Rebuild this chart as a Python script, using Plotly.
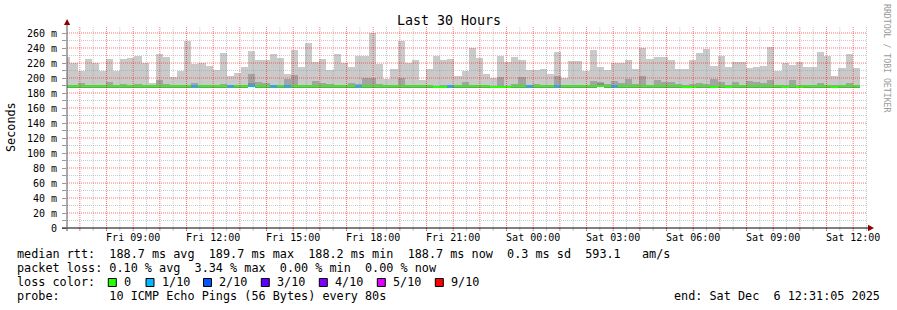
import plotly.graph_objects as go
from datetime import datetime, timedelta

# ---------------- data ----------------
bin_start = datetime(2025, 12, 5, 6, 22, 45)   # first 16-minute consolidation bin
bin_minutes = 16

# top of smoke (max ping), ms
rtt_max = [228.4, 220.4, 208.9, 225.8, 220.4, 208.9, 225.8, 208.9, 225.8, 227.0,
           229.8, 220.4, 193.8, 232.4, 228.4, 201.3, 208.9, 248.9, 219.1, 220.4,
           216.4, 211.1, 233.8, 203.1, 207.1, 215.1, 236.4, 224.4, 224.4, 232.4,
           227.0, 205.8, 237.8, 215.1, 247.1, 221.8, 225.8, 211.1, 232.4, 220.4,
           215.1, 229.8, 229.8, 259.6, 219.1, 199.1, 212.4, 249.8, 220.4, 224.4,
           197.8, 212.4, 229.8, 224.4, 225.8, 203.1, 209.8, 239.6, 227.0, 205.8,
           200.4, 229.8, 221.8, 228.4, 224.4, 211.1, 211.1, 212.4, 205.8, 235.1,
           200.4, 223.1, 223.1, 209.8, 237.8, 215.1, 211.1, 220.4, 220.4, 224.4,
           212.4, 240.4, 225.8, 228.4, 228.4, 224.4, 212.4, 212.4, 224.4, 233.8,
           239.1, 216.4, 229.8, 215.1, 221.8, 221.8, 213.8, 215.1, 216.4, 241.8,
           208.9, 220.4, 217.8, 221.8, 215.1, 215.1, 235.1, 229.8, 203.1, 213.8,
           232.4, 213.8]

# top of second smoke layer (9th ping), ms
rtt_p9 = [189.5, 189.5, 193.8, 189.5, 191.0, 189.5, 195.0, 190.5, 192.4, 189.5,
          192.4, 189.5, 189.5, 197.8, 192.4, 189.5, 191.0, 189.5, 193.8, 189.5,
          189.5, 189.5, 192.4, 189.5, 189.5, 189.5, 205.8, 195.0, 193.8, 189.5,
          189.5, 199.1, 204.4, 189.5, 189.5, 196.4, 193.8, 192.4, 189.5, 189.5,
          193.8, 192.4, 200.4, 200.4, 192.4, 189.5, 189.5, 200.4, 191.0, 189.5,
          189.5, 189.5, 189.5, 190.5, 189.5, 189.5, 195.0, 191.0, 189.5, 189.5,
          189.5, 201.8, 189.5, 192.4, 201.8, 189.5, 192.4, 189.5, 189.5, 203.1,
          189.5, 189.5, 189.5, 189.5, 196.4, 195.0, 192.4, 196.4, 193.8, 199.1,
          192.4, 203.1, 189.5, 197.8, 195.0, 195.0, 192.4, 191.0, 192.4, 193.8,
          192.4, 199.1, 195.0, 191.0, 195.0, 189.5, 196.4, 195.0, 193.8, 197.8,
          189.5, 191.0, 197.8, 191.0, 189.5, 189.5, 193.8, 191.0, 191.0, 189.5,
          193.8, 191.0]

# top of third smoke layer (8th ping), ms
rtt_p8 = [189.0] * 26 + [194.0] + [189.0] * 48 + [194.0] + [189.0] * 36

# median rtt, ms
rtt_median = [188.8, 188.8, 188.8, 188.8, 188.8, 188.8, 188.8, 188.8, 188.8, 188.8,
              188.8, 188.8, 188.8, 188.8, 188.8, 188.8, 188.8, 188.8, 188.8, 188.8,
              188.8, 188.8, 188.8, 188.8, 188.8, 188.8, 188.8, 188.8, 188.8, 188.8,
              188.8, 188.8, 188.8, 188.8, 188.8, 188.8, 188.8, 188.8, 188.8, 188.8,
              188.8, 188.8, 188.8, 188.8, 188.8, 188.8, 188.8, 188.8, 188.8, 188.8,
              188.8, 188.8, 188.2, 188.2, 188.8, 188.8, 188.8, 188.8, 188.8, 188.8,
              188.2, 188.2, 188.2, 188.8, 188.8, 188.8, 188.8, 188.8, 188.8, 188.8,
              188.8, 188.8, 188.8, 188.8, 188.8, 188.8, 188.8, 188.8, 188.8, 188.8,
              188.8, 188.8, 188.8, 188.8, 188.8, 188.8, 188.8, 188.2, 188.2, 188.8,
              188.8, 188.2, 188.8, 188.2, 188.8, 188.8, 188.8, 188.8, 188.8, 189.8,
              188.8, 188.2, 188.8, 188.2, 188.8, 188.8, 188.8, 188.8, 188.2, 188.8,
              188.8, 188.8]

# packet loss per bin (pings lost out of 10)
loss = [0] * 112
for k in [18, 23, 26, 29, 31, 41, 54, 65, 69, 77]:
    loss[k] = 1

smoke_min = 187.6

loss_labels = ["0", "1/10", "2/10", "3/10", "4/10", "5/10", "9/10"]
loss_colors = ["#26ff00", "#00b8ff", "#0059ff", "#5e00ff", "#7e00ff", "#dd00ff", "#ff0000"]
loss_color_map = {0: "#26ff00", 1: "#00b8ff", 2: "#0059ff", 3: "#5e00ff",
                  4: "#7e00ff", 5: "#dd00ff", 9: "#ff0000"}

y_ticks = list(range(0, 261, 20))
y_ticktext = ["0"] + ["%d m" % v for v in y_ticks[1:]]

x_start = datetime(2025, 12, 5, 6, 31, 5)
x_end = datetime(2025, 12, 6, 12, 31, 5)

stats_lines = [
    "median rtt:  188.7 ms avg  189.7 ms max  188.2 ms min  188.7 ms now  0.3 ms sd  593.1   am/s",
    "packet loss: 0.10 % avg  3.34 % max  0.00 % min  0.00 % now",
    "loss color:",
    "probe:       10 ICMP Echo Pings (56 Bytes) every 80s",
]
end_text = "end: Sat Dec  6 12:31:05 2025"

# ---------------- figure ----------------
n = len(rtt_max)
centers = [bin_start + timedelta(minutes=bin_minutes * (k + 0.5)) for k in range(n)]
width_ms = bin_minutes * 60 * 1000

fig = go.Figure()
fig.add_trace(go.Bar(x=centers, y=[v - smoke_min for v in rtt_max], base=smoke_min,
                     width=width_ms, marker=dict(color="#cacaca", line=dict(width=0)),
                     hoverinfo="skip"))
fig.add_trace(go.Bar(x=centers, y=[v - smoke_min for v in rtt_p9], base=smoke_min,
                     width=width_ms, marker=dict(color="#a4a4a4", line=dict(width=0)),
                     hoverinfo="skip"))
fig.add_trace(go.Bar(x=centers, y=[v - smoke_min for v in rtt_p8], base=smoke_min,
                     width=width_ms, marker=dict(color="#8a8a8a", line=dict(width=0)),
                     hoverinfo="skip"))
band = 1.35
fig.add_trace(go.Bar(x=centers, y=[2 * band] * n, base=[m - band for m in rtt_median],
                     width=width_ms,
                     marker=dict(color=[loss_color_map[l] for l in loss], line=dict(width=0)),
                     hoverinfo="skip"))

# pixel geometry helpers (paper coords)
L, R, T, B = 67, 867, 27, 228
W, H = 897, 310
def px(x):
    return (x - L) / (R - L)
def py(y):
    return (B - y) / (B - T)

RED_GRID = "rgba(255,0,0,0.55)"
GRAY_GRID = "rgba(150,150,150,0.5)"

shapes = []
# vertical grid: half-hour minor (gray) and hourly major (red)
t = datetime(2025, 12, 5, 7, 0)
while t < x_end:
    major = (t.minute == 0)
    shapes.append(dict(type="line", xref="x", yref="paper", x0=t, x1=t, y0=0, y1=1,
                       layer="above",
                       line=dict(color=RED_GRID if major else GRAY_GRID,
                                 width=1, dash="1px,1px")))
    shapes.append(dict(type="line", xref="x", yref="paper", x0=t, x1=t, y0=py(228), y1=py(231),
                       layer="above",
                       line=dict(color="rgba(255,0,0,0.55)" if major else "rgba(150,150,150,0.5)",
                                 width=1)))
    t += timedelta(minutes=30)
# horizontal grid
for v in range(10, 261, 10):
    major = (v % 20 == 0)
    shapes.append(dict(type="line", xref="paper", yref="y", x0=0, x1=1, y0=v, y1=v,
                       layer="above",
                       line=dict(color=RED_GRID if major else GRAY_GRID,
                                 width=1, dash="1px,1px")))
# axes
shapes.append(dict(type="line", xref="paper", yref="paper", x0=px(62), x1=px(868),
                   y0=0, y1=0, layer="above", line=dict(color="#000000", width=1)))
shapes.append(dict(type="line", xref="paper", yref="paper", x0=0, x1=0,
                   y0=py(231), y1=py(24), layer="above", line=dict(color="#555555", width=1)))
# arrows
shapes.append(dict(type="path", xref="paper", yref="paper", layer="above",
                   path="M %f,%f L %f,%f L %f,%f Z" % (px(64), py(25), px(70.2), py(25), px(67.1), py(19)),
                   fillcolor="#8b0000", line=dict(width=0)))
shapes.append(dict(type="path", xref="paper", yref="paper", layer="above",
                   path="M %f,%f L %f,%f L %f,%f Z" % (px(868), py(224.8), px(868), py(231.2), px(874), py(228)),
                   fillcolor="#8b0000", line=dict(width=0)))

annotations = []
mono = "DejaVu Sans Mono"
annotations.append(dict(text="Last 30 Hours", xref="paper", yref="paper", x=px(448.5), y=py(20.5),
                        xanchor="center", yanchor="middle", showarrow=False,
                        font=dict(family=mono, size=13.3, color="#000000")))
annotations.append(dict(text="Seconds", xref="paper", yref="paper", x=px(11), y=py(127),
                        xanchor="center", yanchor="middle", showarrow=False, textangle=-90,
                        font=dict(family=mono, size=11.8, color="#000000")))
annotations.append(dict(text="RRDTOOL / TOBI OETIKER", xref="paper", yref="paper", x=px(887), y=py(59),
                        xanchor="center", yanchor="middle", showarrow=False, textangle=90,
                        font=dict(family=mono, size=8.2, color="#999999")))
line_y = [254.3, 268.3, 282.3, 296.2]
for txt, yy in zip(stats_lines, line_y):
    annotations.append(dict(text=txt.replace(" ", "&nbsp;"), xref="paper", yref="paper",
                            x=px(16), y=py(yy), xanchor="left", yanchor="middle",
                            showarrow=False, borderpad=0,
                            font=dict(family=mono, size=11.8, color="#000000")))
annotations.append(dict(text=end_text.replace(" ", "&nbsp;"), xref="paper", yref="paper",
                        x=px(880.5), y=py(296.2), xanchor="right", yanchor="middle",
                        showarrow=False, borderpad=0,
                        font=dict(family=mono, size=11.8, color="#000000")))
box_x = [108.3, 146, 203.5, 261.3, 319.3, 377.3, 435.3]
for bx, lab, col in zip(box_x, loss_labels, loss_colors):
    shapes.append(dict(type="rect", xref="paper", yref="paper", layer="above",
                       x0=px(bx), x1=px(bx + 8), y0=py(286.5), y1=py(278.5),
                       fillcolor=col, line=dict(color="#000000", width=1)))
    annotations.append(dict(text=lab, xref="paper", yref="paper", x=px(bx + 14.5), y=py(282.3),
                            xanchor="left", yanchor="middle", showarrow=False, borderpad=0,
                            font=dict(family=mono, size=11.8, color="#000000")))

x_tickvals = [datetime(2025, 12, 5, 9, 0) + timedelta(hours=3 * i) for i in range(10)]

fig.update_layout(
    width=W, height=H,
    margin=dict(l=L, r=W - R, t=T, b=H - B),
    paper_bgcolor="#ffffff", plot_bgcolor="#ffffff",
    barmode="overlay", bargap=0, showlegend=False,
    shapes=shapes, annotations=annotations,
    xaxis=dict(type="date", range=[x_start, x_end], tickvals=x_tickvals,
               tickformat="%a %H:%M", showgrid=False, zeroline=False, showline=False,
               ticks="", ticklabelstandoff=2,
               tickfont=dict(family=mono, size=10, color="#000000"), fixedrange=True),
    yaxis=dict(range=[0, 268], tickvals=y_ticks, ticktext=y_ticktext, showgrid=False,
               zeroline=False, showline=False, ticks="outside", ticklen=4,
               tickcolor="#999999", ticklabelstandoff=3,
               minor=dict(tickvals=list(range(10, 261, 20)), ticks="outside", ticklen=4,
                          tickcolor="#999999", showgrid=False),
               tickfont=dict(family=mono, size=10, color="#000000"), fixedrange=True),
)

fig.write_html("out.html")
